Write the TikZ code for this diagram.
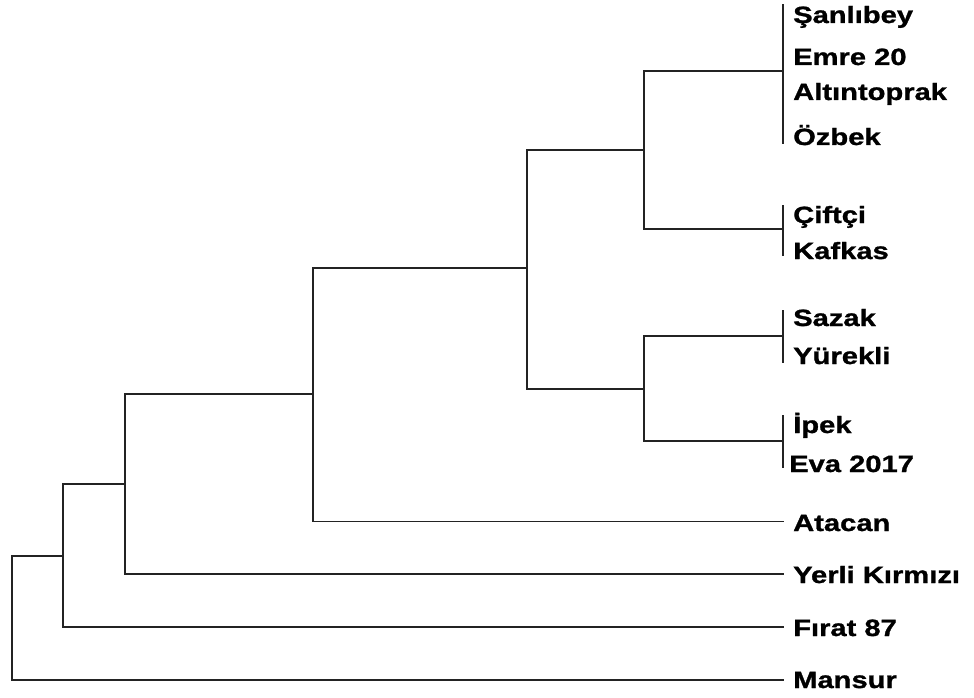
\documentclass[tikz,border=0pt]{standalone}
\usepackage{fontspec}
\newfontfamily\lblfont{Liberation Sans}[FakeStretch=1.24,FakeBold=1.2]
\definecolor{treeline}{RGB}{35,35,35}
\begin{document}
\begin{tikzpicture}[x=1pt,y=-1pt,
  branch/.style={draw=treeline,line width=1.7pt,line cap=rect},
  lbl/.style={anchor=base west,inner sep=0pt,font=\lblfont\bfseries\fontsize{23.5}{27}\selectfont,text=black}]
\useasboundingbox (0,0) rectangle (974,698);
% leaf labels
\node[lbl] (san) at (793,23) {Şanlıbey};
\node[lbl] (emr) at (793,65) {Emre 20};
\node[lbl] (alt) at (793,100) {Altıntoprak};
\node[lbl] (ozb) at (793,145) {Özbek};
\node[lbl] (cif) at (793,223) {Çiftçi};
\node[lbl] (kaf) at (793,259) {Kafkas};
\node[lbl] (saz) at (793,326) {Sazak};
\node[lbl] (yur) at (793,364) {Yürekli};
\node[lbl] (ipe) at (793,433) {İpek};
\node[lbl] (eva) at (789,472) {Eva 2017};
\node[lbl] (ata) at (793,531) {Atacan};
\node[lbl] (yer) at (793,583) {Yerli Kırmızı};
\node[lbl] (fir) at (793,636) {Fırat 87};
\node[lbl] (man) at (793,688) {Mansur};
% tip bars
\coordinate (a1) at (783,5);   \coordinate (a2) at (783,143); \coordinate (am) at (783,71);
\coordinate (b1) at (783,206); \coordinate (b2) at (783,255); \coordinate (bm) at (783,229);
\coordinate (c1) at (783,311); \coordinate (c2) at (783,362); \coordinate (cm) at (783,336);
\coordinate (d1) at (783,416); \coordinate (d2) at (783,467); \coordinate (dm) at (783,441);
\coordinate (tata) at (783,521.5);
\coordinate (tyer) at (783,574);
\coordinate (tfir) at (783,627);
\coordinate (tman) at (783,680);
% internal nodes
\coordinate (n1) at (644,150);
\coordinate (n2) at (644,389);
\coordinate (n3) at (527,268);
\coordinate (n4) at (313,394);
\coordinate (n5) at (125,484);
\coordinate (n6) at (63,556);
\coordinate (n7) at (12,556);
\draw[branch] (a1) -- (a2);
\draw[branch] (b1) -- (b2);
\draw[branch] (c1) -- (c2);
\draw[branch] (d1) -- (d2);
\draw[branch] (am) -| (n1) |- (bm);
\draw[branch] (cm) -| (n2) |- (dm);
\draw[branch] (n1) -| (n3) |- (n2);
\draw[branch] (n3) -| (n4) |- (tata);
\draw[branch] (n4) -| (n5) |- (tyer);
\draw[branch] (n5) -| (n6) |- (tfir);
\draw[branch] (n6) -- (n7) |- (tman);
\end{tikzpicture}
\end{document}
